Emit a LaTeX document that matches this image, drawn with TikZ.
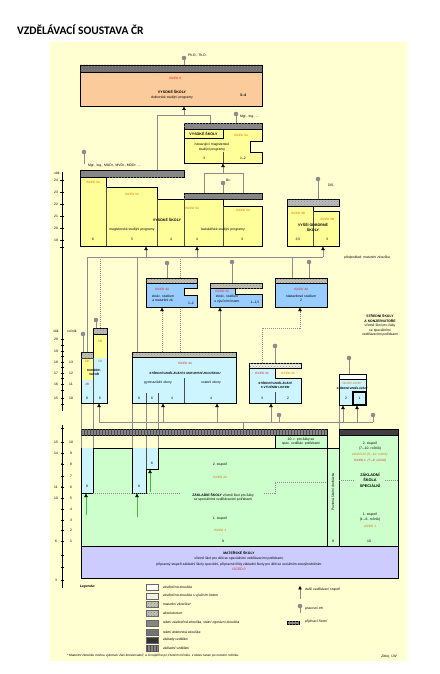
\documentclass[tikz,border=0pt]{standalone}
\usepackage{fontspec}
\setmainfont{Liberation Sans}
\newfontfamily\titlefont{Carlito}
\usetikzlibrary{arrows.meta,patterns}
\definecolor{bgY}{HTML}{FFFFD2}
\definecolor{vsY}{HTML}{FFFF99}
\definecolor{docO}{HTML}{FBCB9C}
\definecolor{ssB}{HTML}{CCF5FF}
\definecolor{nsB}{HTML}{99CCFF}
\definecolor{zsG}{HTML}{CCFFCC}
\definecolor{msL}{HTML}{CCCCFF}
\definecolor{iscR}{HTML}{E0201F}
\definecolor{iscO}{HTML}{D07000}
\definecolor{lnG}{HTML}{8C8C8C}
\definecolor{barDk}{HTML}{6E6E6E}
\definecolor{barMd}{HTML}{858585}
\definecolor{barMat}{HTML}{C4C4B4}
\definecolor{barAbs}{HTML}{BDBDBD}
\definecolor{barVL}{HTML}{F2F2E4}
\newcommand\trh[3]{\draw[stick] (#1,#2)--(#1,#3); \fill[trhdot] (#1,#2) circle (2.3);}
\begin{document}
\begin{tikzpicture}[x=1pt,y=-1pt,
  every node/.style={inner sep=0pt, outer sep=0pt},
  t/.style={font=\fontsize{3.4}{4.4}\selectfont, align=center},
  tb/.style={font=\bfseries\fontsize{3.6}{4.6}\selectfont, align=center},
  ti/.style={font=\itshape\fontsize{3.4}{4.4}\selectfont, align=center},
  tr/.style={text=iscR, font=\itshape\fontsize{3.1}{3.8}\selectfont, align=center},
  to/.style={text=iscO, font=\itshape\fontsize{3.1}{3.8}\selectfont, align=center},
  box/.style={draw=black, line width=0.8pt},
  bar/.style={draw=black, line width=0.7pt},
  dots/.style={postaction={pattern=crosshatch dots, pattern color=black!45}},
  ln/.style={draw=lnG, line width=0.55pt},
  lnd/.style={ln, dash pattern=on 1.2pt off 0.8pt},
  stick/.style={draw=lnG, line width=0.6pt},
  trhdot/.style={fill=lnG},
  arr/.style={draw=lnG, line width=0.55pt, -{Triangle[length=3.4pt,width=3.4pt,black]}},
  arrg/.style={draw=green!45!gray, line width=0.55pt, -{Triangle[length=3.4pt,width=3.4pt,black]}},
  div/.style={draw=black!70, line width=0.4pt},
  axis/.style={draw=black, line width=0.5pt}
]
\useasboundingbox (0,0) rectangle (439,674);
\fill[white] (0,0) rectangle (439,674);
\fill[bgY] (50,42) rectangle (407,661);
\node[anchor=west, font=\titlefont\bfseries\fontsize{11.5}{13}\selectfont] (title) at (17,30) {VZDĚLÁVACÍ SOUSTAVA ČR};

% ---------------- connectors ----------------
\draw[ln] (157,170)--(157,115)--(210,115)--(210,123);
\draw[arr] (184,115)--(184,106.6);
\draw[ln] (204,193)--(204,173)--(243,173)--(243,193);
\draw[arr] (223,173)--(223,163.6);
\draw[ln] (87,352)--(87,257)--(323,257);
\draw[arr] (146,257)--(146,246.6);
\draw[arr] (197,257)--(197,246.6);
\draw[arr] (323,257)--(323,246.6);
\draw[lnd] (100,328)--(100,257);
\draw[ln] (137,352)--(137,257);
\draw[lnd] (180,352)--(180,257);
\draw[ln] (292,278)--(292,257);
\draw[arr, lnd] (162,352)--(162,307.6);
\draw[arr] (220,352)--(220,307.6);
\draw[arr, lnd] (262,363)--(262,328)--(300,328)--(300,307.6);
\draw[ln] (99,422)--(373,422);
\draw[arr] (99,422)--(99,403.6);
\draw[arr] (163,422)--(163,403.6);
\draw[arr] (217,422)--(217,403.6);
\draw[arr] (271,422)--(271,403.6);
\draw[arr] (343,422)--(343,405.6);
\draw[arr] (357,422)--(357,405.6);
\draw[ln] (243,422)--(243,429);
\foreach \x in {81,93,132,146,158} {\draw[ln] (\x,403)--(\x,429); \draw[ln] (\x,435)--(\x,448);}
\draw[ln] (327,435)--(327,448); \draw[ln] (339,403)--(339,429);

% ---------------- doctoral ----------------
\trh{184}{58}{65}
\node[t, anchor=west] (phd) at (188,55) {Ph.D., Th.D.};
\draw[box, fill=docO] (80,72) rectangle (262,106);
\draw[bar, fill=barDk, dots] (80,65) rectangle (262,72);
\node[tr] (i6) at (175,78) {ISCED 6};
\node[tb] (dok1) at (172,92) {VYSOKÉ ŠKOLY};
\node[t] (dok2) at (172,97.5) {doktorské studijní programy};
\node[tb] (dok3) at (243,95) {3–4};

% ---------------- navazujici ----------------
\trh{236}{114}{123}
\node[t, anchor=west] (mgr2) at (240,117) {Mgr., Ing., ...};
\draw[bar, fill=barMd, dots] (184,123) rectangle (262,129);
\draw[box, fill=vsY] (184,129)--(262,129)--(262,141)--(250,141)--(250,152)--(262,152)--(262,163)--(184,163)--cycle;
\draw[line width=0.5pt] (184,129) rectangle (223,138.5);
\node[tb] (nv1) at (203.5,134) {VYSOKÉ ŠKOLY};
\node[to] (nvi) at (241,135) {ISCED 5A};
\node[t] (nv2) at (212,144.5) {navazující magisterské};
\node[t] (nv3) at (212,149.5) {studijní programy};
\draw[div] (223,152)--(223,163);
\node[t] (nv4) at (204,158) {3};
\node[t] (nv5) at (243,158) {1–2};
\trh{223}{183}{193}
\node[t, anchor=west] (bc) at (226,180) {Bc.};

% ---------------- VS mag / bak ----------------
\trh{84}{152}{164}
\node[t, anchor=west] (mgr1) at (88,166) {Mgr., Ing., MUDr., MVDr., MDDr. ...};
\draw[bar, fill=barMd, dots] (80,170) rectangle (184,177);
\draw[bar, fill=barMd, dots] (184,193) rectangle (262,199);
\draw[box, fill=vsY] (80,177)--(106,177)--(106,187)--(157,187)--(157,199)--(223,199)--(223,206)--(262,206)--(262,246)--(80,246)--cycle;
\draw[div] (106,187)--(106,246) (157,199)--(157,246) (184,199)--(184,246) (223,206)--(223,246);
\node[to] (m1) at (93,182) {ISCED 5A};
\node[to] (m2) at (132,194) {ISCED 5A};
\node[to] (m3) at (192,208) {ISCED 5A};
\node[to] (m4) at (243,210) {ISCED 5A};
\node[tb] (vs) at (167,220) {VYSOKÉ ŠKOLY};
\node[t] (mag) at (132,230) {magisterské studijní programy};
\node[t] (bak) at (223,230) {bakalářské studijní programy};
\node[t] (y6) at (93,239.5) {6};
\node[t] (y5) at (132,239.5) {5};
\node[t] (y4a) at (171,239.5) {4};
\node[t] (y4b) at (197,239.5) {4};
\node[t] (y3) at (242,239.5) {3};

% ---------------- VOS ----------------
\trh{318}{179}{199}
\node[t, anchor=west] (dis) at (328,185) {DiS.};
\draw[bar, fill=barAbs, dots] (287,199) rectangle (339,206);
\draw[box, fill=vsY] (287,206)--(313,206)--(313,211)--(339,211)--(339,246)--(287,246)--cycle;
\draw[div] (313,211)--(313,246);
\node[to] (v1) at (298,213) {ISCED 5B};
\node[to] (v2) at (327,219) {ISCED 5B};
\node[tb] (vos) at (313,227.5) {VYŠŠÍ ODBORNÉ\\ŠKOLY};
\node[t] (v3) at (298,239.5) {3,5};
\node[t] (v4) at (327,239.5) {3};
\node[ti] (pred) at (367,258) {předpoklad: maturitní zkouška};

% ---------------- ISCED 4 boxes ----------------
\trh{167}{263}{278}
\draw[bar, fill=barMat, dots] (146,278) rectangle (197,283);
\draw[box, fill=nsB] (146,283)--(197,283)--(197,288)--(184,288)--(184,295)--(197,295)--(197,307)--(146,307)--cycle;
\node[tr] (z1) at (162,289) {ISCED 4A};
\node[t] (z2) at (163,298) {zkrác. studium\\a maturitní zk.};
\node[t] (z3) at (191,303) {1–2};

\trh{232}{262}{283}
\draw[bar, fill=barMat, dots] (210,283) rectangle (262,288);
\draw[box, fill=nsB] (210,288)--(235,288)--(235,294)--(262,294)--(262,307)--(210,307)--cycle;
\node[tr] (zv1) at (222,291.5) {ISCED 4C};
\node[t] (zv2) at (227,299) {zkrác. studium\\s výučním listem};
\node[t] (zv3) at (255,303) {1–1,5};

\trh{309}{262}{278}
\draw[bar, fill=barMat, dots] (275,278) rectangle (327,283);
\draw[box, fill=nsB] (275,283) rectangle (327,307);
\node[tr] (n1) at (301,289) {ISCED 4A};
\node[t] (n2) at (301,298) {nástavbové studium\\2};
\node[t] (ssk) at (380,325.5) {\textbf{STŘEDNÍ ŠKOLY}\\\textbf{A KONZERVATOŘE}\\včetně škol pro žáky\\se speciálními\\vzdělávacími potřebami};

% ---------------- konzervator ----------------
\trh{96}{320}{328}
\trh{83}{334}{352}
\draw[bar, fill=barAbs, dots] (93,328) rectangle (107,334);
\draw[bar, fill=barMat, dots] (81,352) rectangle (93,358);
\fill[vsY] (93,334) rectangle (107,358);
\fill[ssB] (93,358) rectangle (107,403);
\fill[vsY] (81,358) rectangle (93,380);
\fill[ssB] (81,380) rectangle (93,403);
\draw[box] (81,358)--(81,403)--(107,403)--(107,334)--(93,334)--(93,358);
\draw[div] (93,358)--(93,403) (81,358)--(93,358);
\node[to] (k1) at (100,341) {5B};
\node[to] (k2) at (87,361) {5B};
\node[to] (k3) at (100,361) {5B};
\node[font=\bfseries\fontsize{3}{3.8}\selectfont, align=center] (k4) at (94,372.5) {KONZER-\\VATOŘ};
\node[tr] (k5) at (87,384) {3B};
\node[t] (k6) at (87,398) {8};
\node[t] (k7) at (100,398) {6};

% ---------------- SS maturita ----------------
\draw[bar, fill=barMat, dots] (132,352) rectangle (236,357);
\draw[box, fill=ssB] (132,357) rectangle (236,403);
\draw[div] (184,378)--(184,403) (146,393)--(146,403) (158,393)--(158,403);
\node[tr] (s1) at (185,363) {ISCED 3A};
\node[font=\bfseries\itshape\fontsize{3}{3.8}\selectfont] (s2) at (185,373) {STŘEDNÍ VZDĚLÁVÁNÍ S MATURITNÍ ZKOUŠKOU};
\node[t] (s3) at (158,383) {gymnaziální obory};
\node[t] (s4) at (211,383) {ostatní obory};
\node[t] (s5) at (139,398) {8};
\node[t] (s6) at (152,398) {6};
\node[t] (s7) at (172,398) {4};
\node[t] (s8) at (211,398) {4};

% ---------------- SS vyucni list ----------------
\trh{275}{346}{363}
\draw[bar, fill=barVL, dots] (249,363) rectangle (301,368);
\draw[box, fill=ssB] (249,368)--(275,368)--(275,378)--(301,378)--(301,403)--(249,403)--cycle;
\draw[div] (275,392)--(275,403);
\node[tr] (u1) at (262,373.5) {ISCED 3C};
\node[to] (u2) at (288,373.5) {ISCED 3C};
\node[font=\bfseries\itshape\fontsize{3}{3.8}\selectfont, align=center] (u3) at (275,385) {STŘEDNÍ VZDĚLÁVÁNÍ\\S VÝUČNÍM LISTEM};
\node[t] (u4) at (262,398) {3};
\node[t] (u5) at (288,398) {2};

% ---------------- SS small ----------------
\trh{349}{358}{374}
\trh{279}{415}{422}
\trh{373}{415}{422}
\draw[bar, fill=white] (339,374) rectangle (366,379);
\draw[box, fill=ssB] (339,379) rectangle (366,405);
\draw[line width=1.1pt] (353,392) rectangle (366,405);
\node[to] (x1) at (352,383) {ISCED 2C/3C};
\node[font=\bfseries\itshape\fontsize{2.8}{3.4}\selectfont] (x2) at (352,388) {STŘEDNÍ VZDĚLÁVÁNÍ};
\node[t] (x3) at (346,398.5) {2};
\node[t] (x4) at (359.5,398.5) {1};

% ---------------- ZS ----------------
\draw[bar, fill=barMd, postaction={pattern=vertical lines, pattern color=black!70}] (81,429) rectangle (327,435);
\draw[bar, fill=black!75] (339,429) rectangle (398,435);
\draw[box, fill=zsG] (275,435) rectangle (327,448);
\node[t] (r10) at (301,441.5) {10. r. pro žáky se\\spec. vzděláv. potřebami};
\fill[zsG] (81,448) rectangle (327,546);
\fill[ssB] (81,448) rectangle (93,493);
\fill[ssB] (132,448) rectangle (146,493);
\fill[ssB] (146,448) rectangle (158,469);
\draw[box] (93,448)--(93,493)--(81,493);
\draw[box] (93,448)--(132,448)--(132,493)--(146,493)--(146,469)--(158,469)--(158,448)--(327,448);
\draw[div] (146,448)--(146,469);
\draw[box] (81,448)--(81,546)--(327,546)--(327,448);
\draw[box, fill=zsG] (327,448) rectangle (339,546);
\draw[box, fill=zsG] (339,435) rectangle (398,546);
\node[t] (zb1) at (87,486) {8};
\node[t] (zb2) at (139,486) {8};
\node[t] (zb3) at (152,463) {6};
\draw[arrg] (86,515)--(86,493.6);
\draw[arrg] (137,517)--(137,493.6);
\draw[arrg] (150,492)--(150,469.6);
\draw[lnd] (93,493)--(181,493);
\draw[lnd] (264,493)--(275,493)--(275,482)--(327,482);
\node[t] (zs1) at (220,465) {2. stupeň};
\node[to] (zs2) at (220,477) {ISCED 2A};
\node[t] (zs3) at (223,497.5) {\textbf{ZÁKLADNÍ ŠKOLY} včetně škol pro žáky\\se speciálními vzdělávacími potřebami};
\node[t] (zs4) at (220,519) {1. stupeň};
\node[to] (zs5) at (220,530) {ISCED 1};
\node[t, rotate=90] (pov) at (333,492) {Povinná školní docházka};
\node[t] (zs6) at (223,541) {9};
\node[t] (zs7) at (333,541) {9};
\node[t] (zs8) at (369,541) {10};
\node[t] (sp1) at (370,446) {2. stupeň\\(7.–10. ročník)};
\node[to] (sp2) at (370,455) {ISCED 2C (9.–10. ročník)};
\node[tr] (sp3) at (370,461) {ISCED 1 \ (7.–8. ročník)};
\node[tb, font=\bfseries\fontsize{3.8}{5.6}\selectfont] (sp4) at (370,480) {ZÁKLADNÍ\\ŠKOLA\\SPECIÁLNÍ};
\draw[lnd] (339,480)--(355,480) (385,480)--(398,480);
\node[t] (sp5) at (370,517) {1. stupeň\\(1.–6. ročník)};
\node[to] (sp6) at (370,526) {ISCED 1};

% ---------------- MS ----------------
\draw[box, fill=msL] (81,546) rectangle (398,578);
\node[t, font=\fontsize{3.4}{5.3}\selectfont] (ms) at (239,561) {\textbf{MATEŘSKÉ ŠKOLY}\\včetně škol pro děti se speciálními vzdělávacími potřebami,\\přípravný stupeň základní školy speciální, přípravné třídy základní školy pro děti se sociálním znevýhodněním\\\textcolor{iscR}{\itshape ISCED 0}};

% ---------------- axis ----------------
\draw[axis] (62,172)--(62,411);
\draw[axis] (62,425)--(62,588);
\node[t] (vek1) at (57,173) {věk};
\foreach \a/\y in {24/180,23/192,22/204,21/216,20/228,19/240} {\node[t] at (56,\y) {\a}; \draw[axis] (60,\y)--(64,\y);}
\draw[axis] (60,247)--(64,247);
\node[t] (vek2) at (56,331) {věk};
\node[t] (roc) at (72,331) {ročník};
\foreach \a/\y in {20/339,19/351,18/362,17/373,16/384,15/398,15/442,14/453,11/487,10/498,6/541,3/580} {\node[t] at (56,\y) {\a};}
\foreach \a/\y in {13/362,12/373,11/384,10/398,10/442,9/453,8/464,7/476,6/487,5/498,4/509,3/520,2/530,1/541} {\node[t] at (71,\y) {\a};}
\foreach \y in {339,345,351,356,362,367,373,378,384,390,398,404,428,442,453,464,476,487,498,509,520,530,541,555,567,580} {\draw[axis] (60.5,\y)--(63.5,\y);}
\foreach \y in {464,487} {\fill (62,\y) circle (0.9);}

% ---------------- legend ----------------
\node[anchor=west, font=\bfseries\itshape\fontsize{3.4}{4}\selectfont] (leg) at (80,587) {Legenda:};
\draw[draw=black!60, line width=0.6pt, fill=white] (146,584) rectangle (158,590);
\draw[draw=black!60, line width=0.6pt, fill=barVL] (146,593) rectangle (158,599);
\draw[draw=black!60, line width=0.6pt, fill=barMat, dots] (146,601) rectangle (158,607);
\draw[draw=black!60, line width=0.6pt, fill=barAbs, dots] (146,610) rectangle (158,616);
\draw[draw=black!60, line width=0.6pt, fill=barMd, dots] (146,620) rectangle (158,626);
\draw[draw=black!60, line width=0.6pt, fill=barDk, dots] (146,629) rectangle (158,635);
\draw[draw=black!60, line width=0.6pt, fill=black!80] (146,637) rectangle (158,643);
\draw[draw=black!60, line width=0.6pt, fill=barMd, postaction={pattern=vertical lines, pattern color=black!70}] (146,645) rectangle (158,651);
\foreach \s/\y in {závěrečná zkouška/587, závěrečná zkouška s výučním listem/596, maturitní zkouška*/604, absolutorium/613, {státní závěrečná zkouška, státní rigorózní zkouška}/623, státní doktorská zkouška/632, základy vzdělání/640, základní vzdělání/648}
  {\node[ti, anchor=west] at (163,\y) {\s};}
\draw[arr] (300,599)--(300,586);
\node[ti, anchor=west] (l1) at (305,590) {další vzdělávací stupeň};
\trh{300}{606}{613}
\node[ti, anchor=west] (l2) at (305,609) {pracovní trh};
\draw[bar, fill=barMd, dots, line width=0.4pt] (287,621) rectangle (299,624);
\node[ti, anchor=west] (l3) at (305,622) {přijímací řízení};
\node[ti, anchor=west, font=\itshape\fontsize{3.2}{4}\selectfont] (fn) at (67,656) {* Maturitní zkoušku mohou vykonat i žáci konzervatoří, a to nejdříve po čtvrtém ročníku, v oboru tanec po osmém ročníku.};
\node[ti, anchor=east] (zdroj) at (397,656) {Zdroj: ÚIV};
\end{tikzpicture}
\end{document}
